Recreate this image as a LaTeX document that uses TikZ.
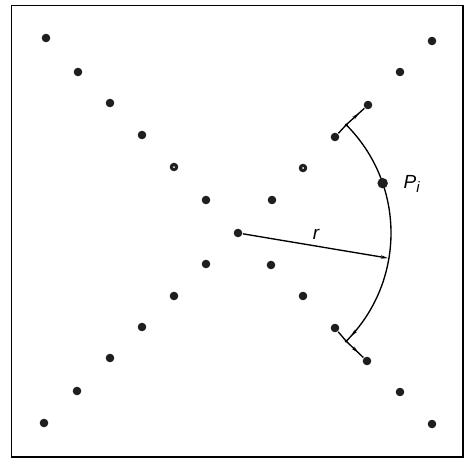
\documentclass[tikz,border=0pt]{standalone}
\usepackage{fontspec}
\setmainfont{Liberation Sans}
\usetikzlibrary{arrows.meta,decorations.markings}
\tikzset{
  mytip/.tip={Stealth[length=7pt,width=3.4pt]},
  dot/.style={circle,fill=black!88,inner sep=0pt,minimum size=8.6pt},
  ringdot/.style={dot,path picture={\fill[white] (path picture bounding box.center) circle (1pt);}},
  bigdot/.style={dot,minimum size=10.5pt},
  lbl/.style={font=\fontsize{19}{21}\selectfont\itshape,inner sep=0pt},
  arrowat/.style={postaction={decorate},decoration={markings,mark=at position #1 with {\arrow{mytip}}}},
  frameline/.style={line width=1.6pt}
}
\begin{document}
\begin{tikzpicture}[x=1pt,y=-1pt,line width=1.35pt]
\useasboundingbox (0,0) rectangle (468,458);
\draw[frameline] (11.5,5.5) rectangle (463,457);
\foreach \n/\x/\y in {a1/46/38,a2/78/72,a3/110/103,a4/142/135,a6/206/200,
  b1/206/264,b2/174/296,b3/142/327,b4/110/358,b5/77/391,b6/44/423,
  c1/432/41,c2/400/72,c3/368/105,c4/335/137,c6/272/200,
  e1/271/265,e2/303/296,e3/335/328,e4/367/361,e5/400/392,e6/432/424}
  \node[dot] (\n) at (\x,\y) {};
\node[ringdot] (a5) at (174,167) {};
\node[ringdot] (c5) at (303,168) {};
\node[dot] (C) at (238,233) {};
\coordinate (J1) at ([shift={(-45:153)}]C.center);
\coordinate (J2) at ([shift={(45:153)}]C.center);
\coordinate (R) at ([shift={(9.5:152)}]C.center);
\draw[arrowat=0.97] (J1) arc[start angle=-45,end angle=45,radius=153];
\node[bigdot] (P) at ([shift={(-19:153)}]C.center) {};
\fill (J1) circle (1.5pt);
\fill (J2) circle (1.5pt);
\draw (c4) -- (J1);
\draw[arrowat=0.7] (J1) -- (c3);
\draw (e3) -- (J2);
\draw[arrowat=0.7] (J2) -- (e4);
\draw[-{mytip}] (C) -- (R);
\node[lbl] (rl) at (316,234) {r};
\node[lbl,anchor=west] (pl) at (403,184) {P\raisebox{-0.45ex}{\fontsize{15}{15}\selectfont i}};
\end{tikzpicture}
\end{document}
